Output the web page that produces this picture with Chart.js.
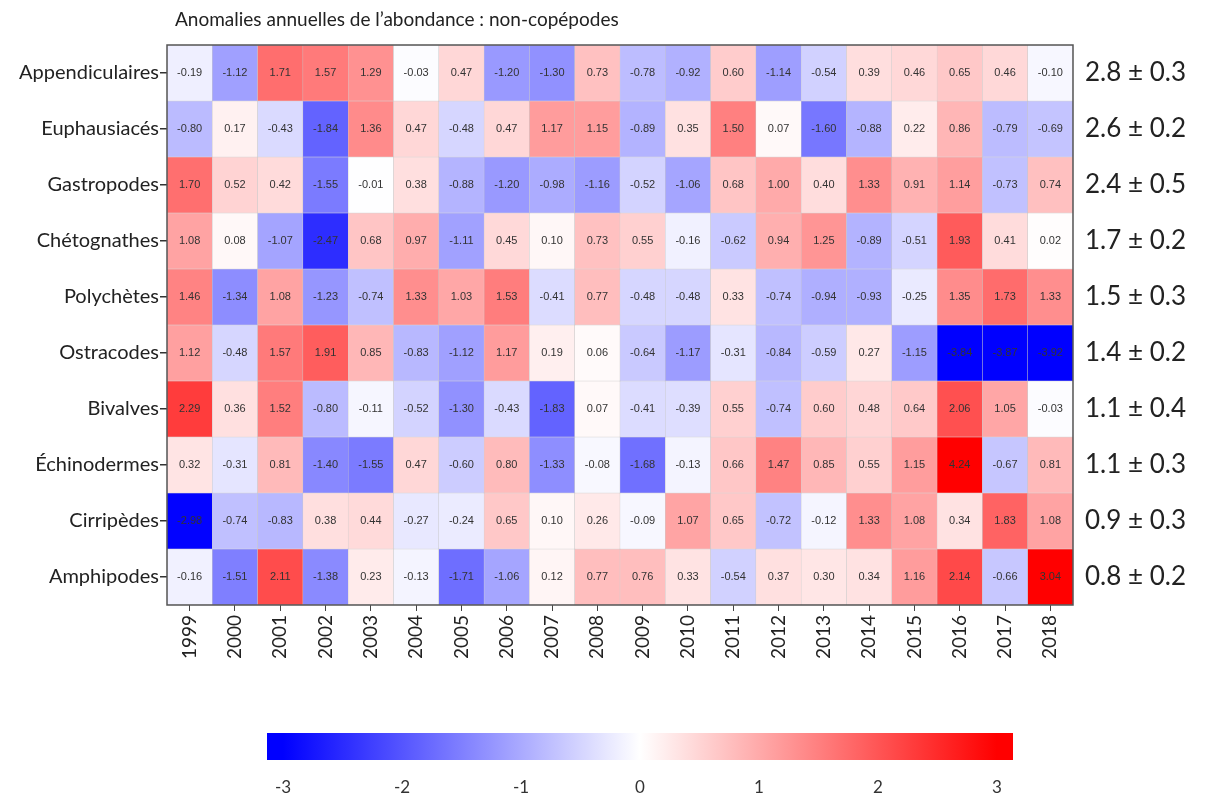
<!DOCTYPE html>
<html>
<head>
<title>Anomalies annuelles de l'abondance</title>
<style>
  body { margin: 0; background: #fff; }
  #wrap { position: relative; width: 1215px; height: 801px; overflow: hidden; }
  #title { position: absolute; left: 175px; top: 7px; font: 19px Lato, "Open Sans", sans-serif; color: #222; }
  #heat { position: absolute; left: 0; top: 0; }
  #bar { position: absolute; left: 0; top: 720px; }
</style>
</head>
<body>
<div id="wrap">
  <canvas id="heat" width="1215" height="700"></canvas>
  <canvas id="bar" width="1215" height="81"></canvas>
  <div id="title">Anomalies annuelles de l’abondance : non-copépodes</div>
</div>

<script src="https://cdn.jsdelivr.net/npm/chart.js"></script>
<script>
const years = ['1999','2000','2001','2002','2003','2004','2005','2006','2007','2008',
               '2009','2010','2011','2012','2013','2014','2015','2016','2017','2018'];
const groups = ['Appendiculaires','Euphausiacés','Gastropodes','Chétognathes','Polychètes',
                'Ostracodes','Bivalves','Échinodermes','Cirripèdes','Amphipodes'];
const means = ['2.8 ± 0.3','2.6 ± 0.2','2.4 ± 0.5','1.7 ± 0.2','1.5 ± 0.3',
               '1.4 ± 0.2','1.1 ± 0.4','1.1 ± 0.3','0.9 ± 0.3','0.8 ± 0.2'];

const appendiculaires = [-0.19,-1.12,1.71,1.57,1.29,-0.03,0.47,-1.20,-1.30,0.73,-0.78,-0.92,0.60,-1.14,-0.54,0.39,0.46,0.65,0.46,-0.10];
const euphausiaces    = [-0.80,0.17,-0.43,-1.84,1.36,0.47,-0.48,0.47,1.17,1.15,-0.89,0.35,1.50,0.07,-1.60,-0.88,0.22,0.86,-0.79,-0.69];
const gastropodes     = [1.70,0.52,0.42,-1.55,-0.01,0.38,-0.88,-1.20,-0.98,-1.16,-0.52,-1.06,0.68,1.00,0.40,1.33,0.91,1.14,-0.73,0.74];
const chetognathes    = [1.08,0.08,-1.07,-2.47,0.68,0.97,-1.11,0.45,0.10,0.73,0.55,-0.16,-0.62,0.94,1.25,-0.89,-0.51,1.93,0.41,0.02];
const polychetes      = [1.46,-1.34,1.08,-1.23,-0.74,1.33,1.03,1.53,-0.41,0.77,-0.48,-0.48,0.33,-0.74,-0.94,-0.93,-0.25,1.35,1.73,1.33];
const ostracodes      = [1.12,-0.48,1.57,1.91,0.85,-0.83,-1.12,1.17,0.19,0.06,-0.64,-1.17,-0.31,-0.84,-0.59,0.27,-1.15,-3.84,-3.87,-3.92];
const bivalves        = [2.29,0.36,1.52,-0.80,-0.11,-0.52,-1.30,-0.43,-1.83,0.07,-0.41,-0.39,0.55,-0.74,0.60,0.48,0.64,2.06,1.05,-0.03];
const echinodermes    = [0.32,-0.31,0.81,-1.40,-1.55,0.47,-0.60,0.80,-1.33,-0.08,-1.68,-0.13,0.66,1.47,0.85,0.55,1.15,4.24,-0.67,0.81];
const cirripedes      = [-2.98,-0.74,-0.83,0.38,0.44,-0.27,-0.24,0.65,0.10,0.26,-0.09,1.07,0.65,-0.72,-0.12,1.33,1.08,0.34,1.83,1.08];
const amphipodes      = [-0.16,-1.51,2.11,-1.38,0.23,-0.13,-1.71,-1.06,0.12,0.77,0.76,0.33,-0.54,0.37,0.30,0.34,1.16,2.14,-0.66,3.04];

const rows = [appendiculaires, euphausiaces, gastropodes, chetognathes, polychetes,
              ostracodes, bivalves, echinodermes, cirripedes, amphipodes];
const colorTicks = [-3,-2,-1,0,1,2,3];

// blue - white - red, saturating at +-3
function anomalyColor(v) {
  let t = Math.min(Math.abs(v) / 3, 1);
  let c = Math.round(255 * (1 - t));
  return v < 0 ? `rgb(${c},${c},255)` : `rgb(255,${c},${c})`;
}

const cellText = {
  id: 'cellText',
  afterDatasetsDraw(chart) {
    const ctx = chart.ctx;
    ctx.save();
    ctx.font = '11px "Liberation Sans", Arial, sans-serif';
    ctx.fillStyle = '#333';
    ctx.textAlign = 'center';
    ctx.textBaseline = 'middle';
    chart.data.datasets.forEach((ds, r) => {
      chart.getDatasetMeta(r).data.forEach((bar, i) => {
        const p = bar.getProps(['x', 'y', 'base'], true);
        ctx.fillText(rows[r][i].toFixed(2), p.x, (p.y + p.base) / 2);
      });
    });
    const a = chart.chartArea;
    ctx.strokeStyle = '#555';
    ctx.lineWidth = 1.5;
    ctx.strokeRect(a.left, a.top, a.right - a.left, a.bottom - a.top);
    ctx.restore();
  }
};

const heatData = {
  labels: years,
  datasets: rows.map((vals, r) => ({
    label: groups[r],
    data: vals.map(() => [r, r + 1]),
    backgroundColor: vals.map(anomalyColor),
    borderColor: 'rgba(190,190,190,0.7)',
    borderWidth: 0.5,
    borderSkipped: false,
    grouped: false,
    barPercentage: 1,
    categoryPercentage: 1
  }))
};

new Chart(document.getElementById('heat'), {
  type: 'bar',
  data: heatData,
  plugins: [cellText],
  options: {
    responsive: false,
    animation: false,
    layout: { padding: { top: 45, bottom: 10, left: 0, right: 0 } },
    plugins: { legend: { display: false }, tooltip: { enabled: false } },
    scales: {
      x: {
        grid: { display: true, drawOnChartArea: false, tickLength: 6, color: '#444', offset: false },
        border: { display: false },
        ticks: { color: '#222', font: { size: 19, family: 'Lato, "Open Sans", sans-serif' }, minRotation: 90, maxRotation: 90, padding: 4 },
        afterFit: s => { s.height = 85; }
      },
      y: {
        type: 'linear', min: 0, max: 10, reverse: true,
        afterBuildTicks: s => { s.ticks = groups.map((g, i) => ({ value: i + 0.5 })); },
        grid: { drawOnChartArea: false, tickLength: 7, color: '#333', lineWidth: 1.5 },
        border: { display: false },
        ticks: { color: '#222', padding: 1, font: { size: 20, family: 'Lato, "Open Sans", sans-serif' },
                 callback: (v, i) => groups[i] },
        afterFit: s => { s.width = 167; }
      },
      y2: {
        type: 'linear', position: 'right', min: 0, max: 10, reverse: true,
        afterBuildTicks: s => { s.ticks = means.map((m, i) => ({ value: i + 0.5 })); },
        grid: { display: false, drawTicks: false },
        border: { display: false },
        ticks: { color: '#222', padding: 12, font: { size: 26, family: 'Lato, "Open Sans", sans-serif' },
                 callback: (v, i) => means[i] },
        afterFit: s => { s.width = 142; }
      }
    }
  }
});

// colour scale bar
new Chart(document.getElementById('bar'), {
  type: 'bar',
  data: {
    labels: [''],
    datasets: [{
      data: [[-3.135, 3.135]],
      backgroundColor: ctx => {
        const ch = ctx.chart;
        if (!ch.chartArea) return '#fff';
        const x = ch.scales.x;
        const g = ch.ctx.createLinearGradient(x.getPixelForValue(-3), 0, x.getPixelForValue(3), 0);
        g.addColorStop(0, anomalyColor(-3));
        g.addColorStop(0.5, anomalyColor(0));
        g.addColorStop(1, anomalyColor(3));
        return g;
      },
      borderWidth: 0,
      barPercentage: 1,
      categoryPercentage: 1
    }]
  },
  options: {
    indexAxis: 'y',
    responsive: false,
    animation: false,
    layout: { padding: { top: 13, left: 267, right: 202, bottom: 0 } },
    plugins: { legend: { display: false }, tooltip: { enabled: false } },
    scales: {
      x: {
        type: 'linear', min: -3.135, max: 3.135,
        afterBuildTicks: s => { s.ticks = colorTicks.map(v => ({ value: v })); },
        grid: { display: false },
        border: { display: false },
        ticks: { color: '#333', padding: 9, font: { size: 17, family: 'Lato, "Open Sans", sans-serif' } },
        afterFit: s => { s.height = 41; }
      },
      y: { display: false }
    }
  }
});
</script>
</body>
</html>
